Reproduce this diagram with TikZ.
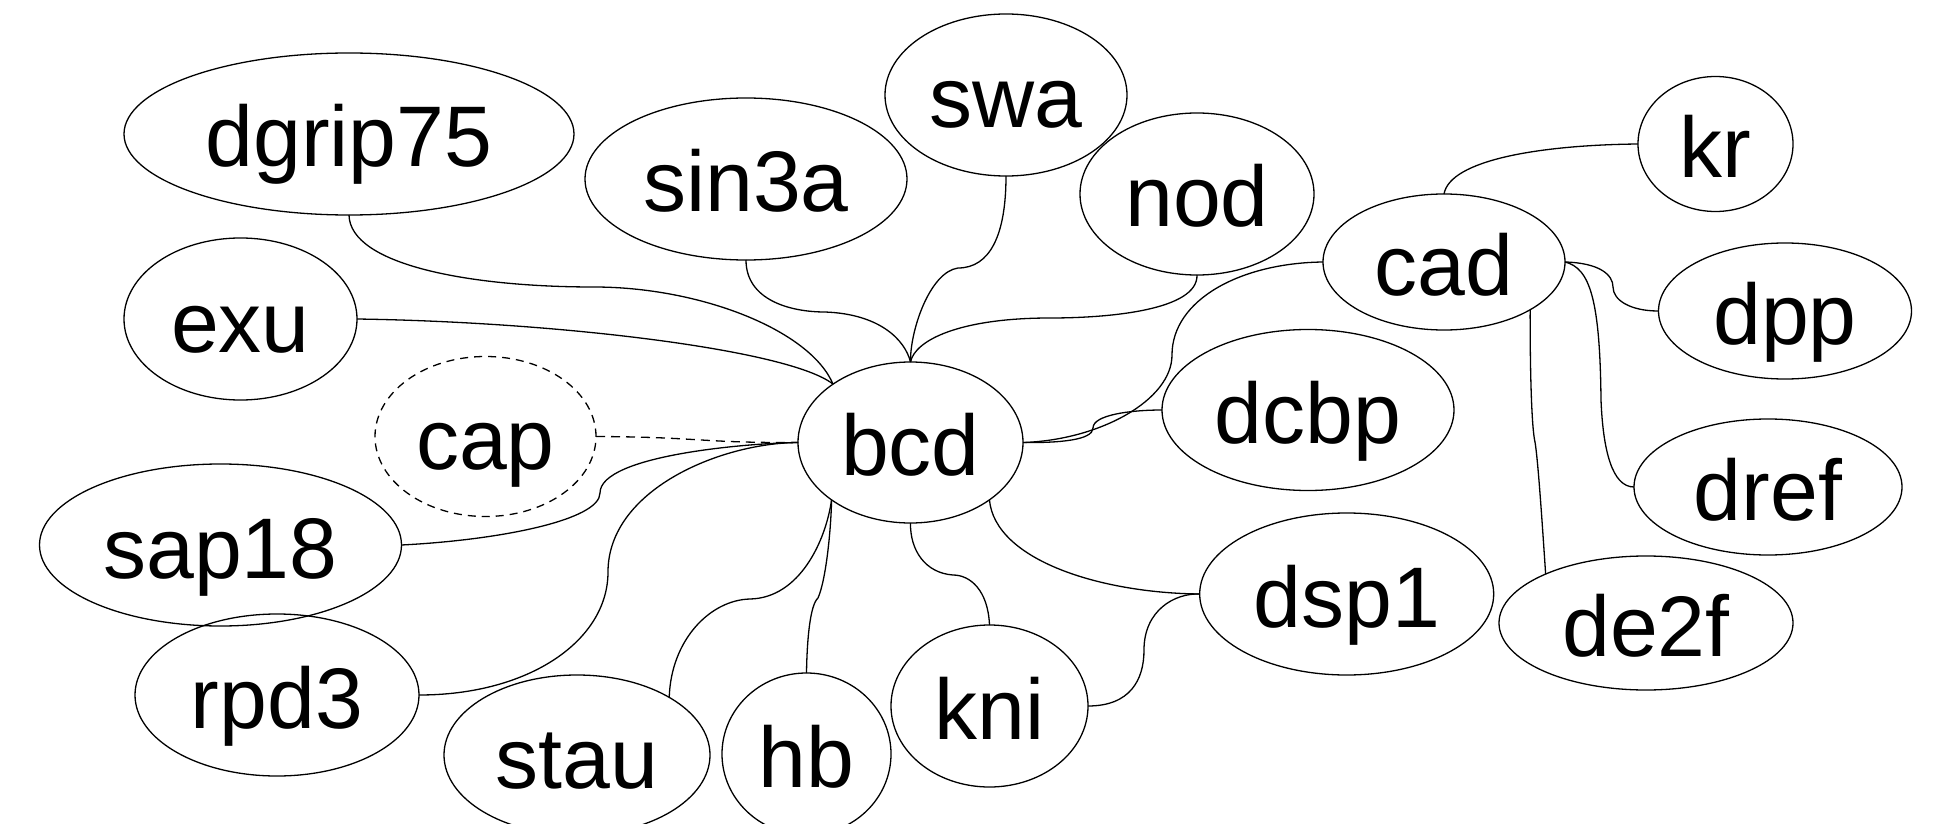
\documentclass[tikz,border=0pt]{standalone}
\usepackage{fontspec}
\setmainfont{Liberation Sans}
\usetikzlibrary{shapes.geometric}
\begin{document}
\begin{tikzpicture}[x=0.5pt,y=-0.5pt,
  gnode/.style={draw, ellipse, line width=0.65pt, inner sep=0pt, outer sep=0pt,
    font=\fontsize{43}{43}\selectfont, text height=33pt, text depth=0pt},
  gsize/.style 2 args={minimum width=#1pt, minimum height=#2pt},
  link/.style={line width=0.65pt},
  dashedlink/.style={link, dash pattern=on 4.5pt off 3pt}]
\useasboundingbox (0,0) rectangle (1945,824);

% nodes
\node[gnode, gsize={225}{81}]   (dgrip75) at (349,134)   {dgrip75};
\node[gnode, gsize={116.5}{81}] (exu)     at (240.5,319) {exu};
\node[gnode, gsize={161}{81}]   (sin3a)   at (746,179)   {sin3a};
\node[gnode, gsize={121}{81}]   (swa)     at (1006,95)   {swa};
\node[gnode, gsize={117}{81}]   (nod)     at (1197,194)  {nod};
\node[gnode, gsize={77.5}{67.5}] (kr)     at (1715.5,144) {kr};
\node[gnode, gsize={121}{68}]   (cad)     at (1444,262)  {cad};
\node[gnode, gsize={126.5}{68}] (dpp)     at (1785,311)  {dpp};
\node[gnode, gsize={146}{80.5}] (dcbp)    at (1308,410)  {dcbp};
\node[gnode, gsize={110.5}{80}, dash pattern=on 4pt off 3pt] (cap) at (485.5,436.5) {cap};
\node[gnode, gsize={112.5}{80.5}] (bcd)   at (910.5,442.5) {bcd};
\node[gnode, gsize={134}{68}]   (dref)    at (1768,487)  {dref};
\node[gnode, gsize={181}{81}]   (sap18)   at (220.5,545) {sap18};
\node[gnode, gsize={147}{81}]   (dsp1)    at (1346.7,594) {dsp1};
\node[gnode, gsize={147}{67}]   (de2f)    at (1646,623)  {de2f};
\node[gnode, gsize={142}{81}]   (rpd3)    at (277,695)   {rpd3};
\node[gnode, gsize={133}{80}]   (stau)    at (577,755)   {stau};
\node[gnode, gsize={84.5}{81}]  (hb)      at (806.5,754) {hb};
\node[gnode, gsize={98.5}{81}]  (kni)     at (989.5,706) {kni};

% connectors
\draw[link] (dgrip75.south) .. controls (350,265) and (470,287) .. (594,287)
  .. controls (700,287) and (810,330) .. (bcd.143);
\draw[link] (exu.east) .. controls (560,322) and (790,350) .. (bcd.143);
\draw[link] (sin3a.south) .. controls (746,300) and (790,312) .. (825,312)
  .. controls (880,314) and (905,340) .. (bcd.north);
\draw[link] (swa.south) .. controls (1006,235) and (990,268) .. (958,268)
  .. controls (930,272) and (910,330) .. (bcd.north);
\draw[link] (nod.south) .. controls (1198,310) and (1110,318) .. (1050,318)
  .. controls (960,318) and (915,340) .. (bcd.north);
\draw[dashedlink] (cap.east) .. controls (700,437) and (700,443) .. (bcd.west);
\draw[link] (sap18.east) .. controls (500,540) and (600,520) .. (600,493)
  .. controls (600,455) and (750,443) .. (bcd.west);
\draw[link] (rpd3.east) .. controls (530,695) and (608,640) .. (608,572)
  .. controls (608,490) and (720,443) .. (bcd.west);
\draw[link] (stau.32) .. controls (671,640) and (710,600) .. (750,599)
  .. controls (800,598) and (826,540) .. (bcd.216);
\draw[link] (hb.north) .. controls (807,640) and (810,605) .. (818,598)
  .. controls (826,580) and (831,530) .. (bcd.216);
\draw[link] (kni.north) .. controls (988,590) and (970,575) .. (953,575)
  .. controls (925,573) and (910,550) .. (bcd.south);
\draw[link] (bcd.-36) .. controls (995,560) and (1100,593) .. (dsp1.west);
\draw[link] (kni.east) .. controls (1130,706) and (1144,680) .. (1144,650)
  .. controls (1144,610) and (1175,593) .. (dsp1.west);
\draw[link] (bcd.east) .. controls (1060,443) and (1093,440) .. (1093,428)
  .. controls (1093,415) and (1130,410) .. (dcbp.west);
\draw[link] (bcd.east) .. controls (1100,440) and (1172,400) .. (1172,355)
  .. controls (1172,300) and (1240,263) .. (cad.west);
\draw[link] (cad.north) .. controls (1450,160) and (1540,145) .. (kr.west);
\draw[link] (cad.east) .. controls (1600,263) and (1613,275) .. (1613,287)
  .. controls (1613,300) and (1630,311) .. (dpp.west);
\draw[link] (cad.east) .. controls (1590,268) and (1600,300) .. (1601,400)
  .. controls (1603,450) and (1612,487) .. (dref.west);
\draw[link] (cad.-29) .. controls (1530,380) and (1532,430) .. (1535,442)
  .. controls (1538,460) and (1542,520) .. (de2f.154);
\end{tikzpicture}
\end{document}
